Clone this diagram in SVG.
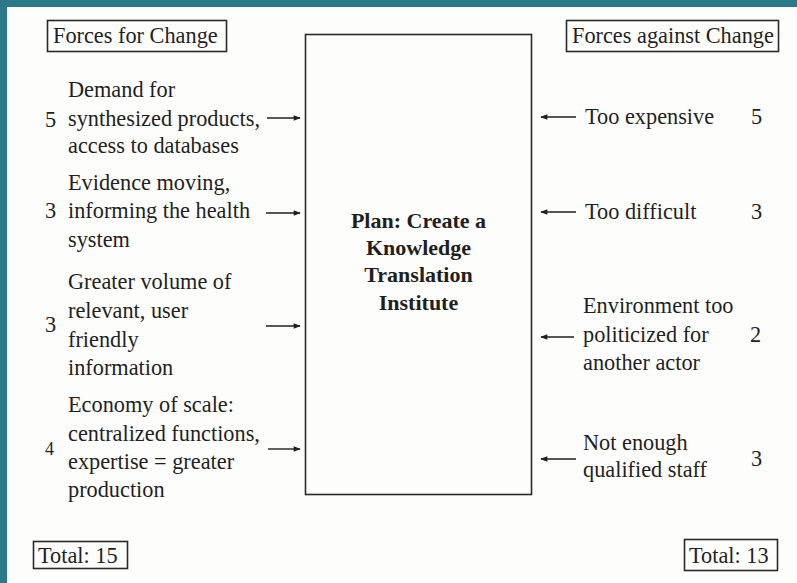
<svg xmlns="http://www.w3.org/2000/svg" width="797" height="583" viewBox="0 0 797 583">
  <style>
    .t { font-family: "Liberation Serif", "Times New Roman", serif; font-size: 22.3px; fill: #1f1f1f; }
    .b { font-family: "Liberation Serif", "Times New Roman", serif; font-size: 22px; font-weight: bold; fill: #1f1f1f; text-anchor: middle; }
    .box { fill: none; stroke: #2a2a2a; stroke-width: 1.6; }
    .arr { stroke: #1f1f1f; stroke-width: 1.4; fill: none; marker-end: url(#head); }
  </style>
  <defs>
    <marker id="head" viewBox="0 0 10 10" refX="9" refY="5" markerWidth="8" markerHeight="7" markerUnits="userSpaceOnUse" orient="auto">
      <path d="M0,1 L10,5 L0,9 Z" fill="#1f1f1f"/>
    </marker>
  </defs>

  <!-- page background and frame -->
  <rect x="0" y="0" width="797" height="583" fill="#2b7a8a"/>
  <rect x="7" y="7" width="790" height="576" fill="#fdfdfc"/>

  <!-- column headings -->
  <g id="heading-for">
    <rect class="box" x="47.5" y="20.5" width="179" height="31"/>
    <text class="t" x="53" y="43">Forces for Change</text>
  </g>
  <g id="heading-against">
    <rect class="box" x="566.5" y="20.5" width="212" height="31"/>
    <text class="t" x="572" y="43">Forces against Change</text>
  </g>

  <!-- central plan -->
  <g id="plan">
    <rect class="box" x="305.5" y="34.5" width="226" height="460"/>
    <text class="b" x="418.5" y="228">Plan: Create a</text>
    <text class="b" x="418.5" y="255">Knowledge</text>
    <text class="b" x="418.5" y="282">Translation</text>
    <text class="b" x="418.5" y="310">Institute</text>
  </g>

  <!-- forces for change -->
  <g id="for-1">
    <text class="t" x="45" y="127">5</text>
    <text class="t" x="68" y="97">Demand for</text>
    <text class="t" x="68" y="126">synthesized products,</text>
    <text class="t" x="68" y="153">access to databases</text>
  </g>
  <g id="for-2">
    <text class="t" x="45" y="218">3</text>
    <text class="t" x="68" y="190">Evidence moving,</text>
    <text class="t" x="68" y="218">informing the health</text>
    <text class="t" x="68" y="247">system</text>
  </g>
  <g id="for-3">
    <text class="t" x="45" y="332">3</text>
    <text class="t" x="68" y="289">Greater volume of</text>
    <text class="t" x="68" y="318">relevant, user</text>
    <text class="t" x="68" y="347">friendly</text>
    <text class="t" x="68" y="375">information</text>
  </g>
  <g id="for-4">
    <text class="t" x="45" y="455" style="font-size:18px">4</text>
    <text class="t" x="68" y="412">Economy of scale:</text>
    <text class="t" x="68" y="441">centralized functions,</text>
    <text class="t" x="68" y="469">expertise = greater</text>
    <text class="t" x="68" y="497">production</text>
  </g>

  <!-- forces against change -->
  <g id="against-1">
    <text class="t" x="585" y="124">Too expensive</text>
    <text class="t" x="751" y="124">5</text>
  </g>
  <g id="against-2">
    <text class="t" x="585" y="219">Too difficult</text>
    <text class="t" x="751" y="219">3</text>
  </g>
  <g id="against-3">
    <text class="t" x="583" y="313">Environment too</text>
    <text class="t" x="583" y="342">politicized for</text>
    <text class="t" x="583" y="370">another actor</text>
    <text class="t" x="750" y="342">2</text>
  </g>
  <g id="against-4">
    <text class="t" x="583" y="450">Not enough</text>
    <text class="t" x="583" y="477">qualified staff</text>
    <text class="t" x="751" y="466">3</text>
  </g>

  <!-- totals -->
  <g id="total-for">
    <rect class="box" x="33.5" y="541.5" width="94" height="27"/>
    <text class="t" x="38" y="563">Total: 15</text>
  </g>
  <g id="total-against">
    <rect class="box" x="684.5" y="539.5" width="93" height="31"/>
    <text class="t" x="689" y="563">Total: 13</text>
  </g>

  <!-- connectors -->
  <g id="connectors">
    <line class="arr" x1="267" y1="118" x2="300" y2="118"/>
    <line class="arr" x1="266" y1="213" x2="300" y2="213"/>
    <line class="arr" x1="266" y1="326" x2="300" y2="326"/>
    <line class="arr" x1="268" y1="449" x2="300" y2="449"/>
    <line class="arr" x1="576" y1="117" x2="541" y2="117"/>
    <line class="arr" x1="576" y1="212" x2="541" y2="212"/>
    <line class="arr" x1="574" y1="337" x2="541" y2="337"/>
    <line class="arr" x1="576" y1="459" x2="541" y2="459"/>
  </g>
</svg>
